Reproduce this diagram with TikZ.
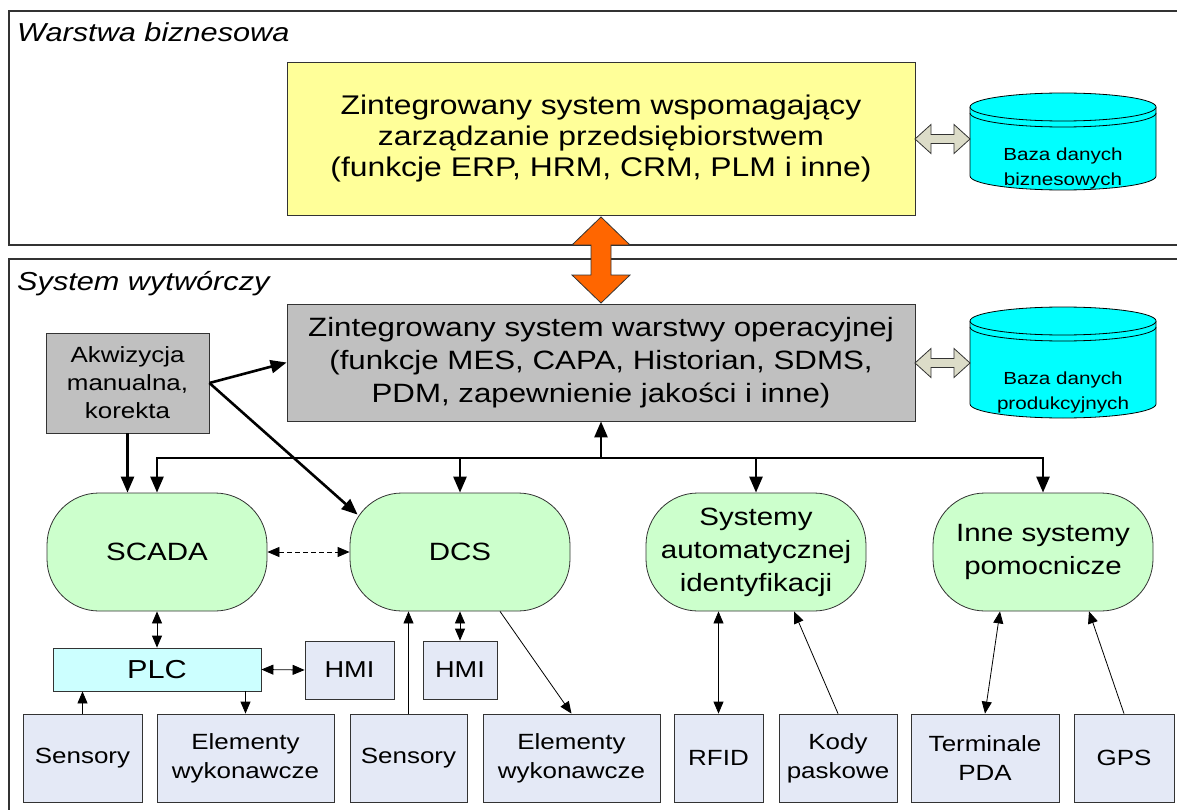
\documentclass[tikz,border=0pt]{standalone}
\usepackage{fontspec}
\setmainfont{Liberation Sans}[FakeStretch=1.18]
\usetikzlibrary{arrows.meta,calc}
\definecolor{yellowc}{HTML}{FFFF99}
\definecolor{grayc}{HTML}{C0C0C0}
\definecolor{cyanc}{HTML}{00FFFF}
\definecolor{greenc}{HTML}{CCFFCC}
\definecolor{plcc}{HTML}{CCFFFF}
\definecolor{lightc}{HTML}{E4E9F6}
\definecolor{orangec}{HTML}{FF6600}
\definecolor{beigec}{HTML}{DCDCC8}
\definecolor{edgec}{HTML}{333333}
\newcommand\fsz[2]{\fontsize{#1pt}{#2pt}\selectfont}
\newcommand\mycyl[3]{%
  \fill[cyanc] (#1-93,#2) -- (#1-93,#3) arc[start angle=180,end angle=360,x radius=93pt,y radius=14pt] -- (#1+93,#2) -- cycle;
  \draw[line width=0.8pt] (#1-93,#2) -- (#1-93,#3) arc[start angle=180,end angle=360,x radius=93pt,y radius=14pt] -- (#1+93,#2);
  \draw[line width=0.8pt,fill=cyanc] (#1,#2) ellipse[x radius=93pt,y radius=14pt];
  \draw[line width=0.8pt] (#1-93,#2+6) arc[start angle=180,end angle=360,x radius=93pt,y radius=14pt];
}
\tikzset{
  layer/.style={draw=edgec,line width=1.1pt},
  box/.style={draw=edgec,line width=0.8pt,align=center,inner sep=0pt},
  mainbox/.style={box,minimum width=628pt},
  greenbox/.style={box,fill=greenc,rounded corners=52pt,minimum width=220pt,minimum height=118pt,font=\fsz{25}{33}},
  lowbox/.style={box,fill=lightc,minimum height=88pt,font=\fsz{22}{29}},
  hmibox/.style={box,fill=lightc,minimum height=58pt,font=\fsz{23}{28}},
  thk/.style={line width=2.6pt,-{Triangle[length=16pt,width=13pt]}},
  thn/.style={line width=0.8pt,-{Triangle[length=12pt,width=10pt]}},
  thnd/.style={line width=0.8pt,{Triangle[length=12pt,width=10pt]}-{Triangle[length=12pt,width=10pt]}},
  dbtext/.style={align=center,font=\fsz{17.5}{25},inner sep=0pt,minimum width=186pt},
  blockarrow/.style={draw=edgec,line width=0.8pt,line join=miter},
  layertitle/.style={anchor=base west,inner sep=0pt,font=\itshape\fsz{26}{30}}
}
\begin{document}
\begin{tikzpicture}[x=1pt,y=-1pt]
\useasboundingbox (0,0) rectangle (1177,810);
\fill[white] (0,0) rectangle (1177,810);
\begin{scope}
  \clip (0,0) rectangle (1177,810);
  \draw[layer] (9,11) rectangle (1200,245);
  \draw[layer] (9,259) rectangle (1200,840);
\end{scope}
\node[layertitle] (t1) at (17,42) {Warstwa biznesowa};
\node[layertitle] (t2) at (17,290) {System wytwórczy};

% business layer
\node[mainbox,fill=yellowc,minimum height=153pt,font=\fsz{27}{31}] (erp) at (601,138.5)
  {Zintegrowany system wspomagający\\zarządzanie przedsiębiorstwem\\(funkcje ERP, HRM, CRM, PLM i inne)};
\mycyl{1063}{107}{176}
\node[dbtext] (db1) at (1063,168) {Baza danych\\biznesowych};

% operational layer
\node[mainbox,fill=grayc,minimum height=117pt,font=\fsz{26.5}{33}] (ops) at (601,362.5)
  {Zintegrowany system warstwy operacyjnej\\(funkcje MES, CAPA, Historian, SDMS,\\PDM, zapewnienie jakości i inne)};
\mycyl{1063}{321}{404}
\node[dbtext] (db2) at (1063,392) {Baza danych\\produkcyjnych};

% block arrows
\draw[blockarrow,fill=beigec] (915,139) -- (931,124.5) -- (931,134.5) -- (954,134.5) -- (954,124.5) -- (970,139)
  -- (954,153.5) -- (954,143.5) -- (931,143.5) -- (931,153.5) -- cycle;
\draw[blockarrow,fill=beigec] (915,363) -- (931,348.5) -- (931,358.5) -- (954,358.5) -- (954,348.5) -- (970,363)
  -- (954,377.5) -- (954,367.5) -- (931,367.5) -- (931,377.5) -- cycle;
\draw[blockarrow,fill=orangec] (601,217) -- (630,245) -- (611,245) -- (611,275) -- (630,275) -- (601,303)
  -- (572,275) -- (591,275) -- (591,245) -- (572,245) -- cycle;

% left acquisition box
\node[box,fill=grayc,minimum width=163pt,minimum height=100pt,font=\fsz{22}{28}] (akw) at (127.5,383)
  {Akwizycja\\manualna,\\korekta};

% green systems
\node[greenbox] (scada) at (157,552) {SCADA};
\node[greenbox] (dcs) at (460,552) {DCS};
\node[greenbox] (sys) at (756,552) {Systemy\\automatycznej\\identyfikacji};
\node[greenbox] (inne) at (1043,552) {Inne systemy\\pomocnicze};

% lower boxes
\node[box,fill=plcc,minimum width=208pt,minimum height=43pt,font=\fsz{26}{30}] (plc) at (157,669.5) {PLC};
\node[hmibox,minimum width=89pt] (hmi1) at (349.5,670) {HMI};
\node[hmibox,minimum width=74pt] (hmi2) at (460,670) {HMI};
\node[lowbox,minimum width=119pt] (sens1) at (82.5,758) {Sensory};
\node[lowbox,minimum width=177pt] (elem1) at (245.5,758) {Elementy\\wykonawcze};
\node[lowbox,minimum width=117pt] (sens2) at (408.5,758) {Sensory};
\node[lowbox,minimum width=177pt] (elem2) at (571.5,758) {Elementy\\wykonawcze};
\node[lowbox,minimum width=89pt] (rfid) at (718.5,758) {RFID};
\node[lowbox,minimum width=118pt] (kody) at (838,758) {Kody\\paskowe};
\node[lowbox,minimum width=148pt] (pda) at (985,758) {Terminale\\PDA};
\node[lowbox,minimum width=100pt] (gps) at (1124,758) {GPS};

% bus
\coordinate (busL) at (157,458);
\coordinate (busR) at (1043,458);
\draw[line width=2.6pt,line cap=rect] (busL) -- (busR);
\draw[thk] (busL) -- (scada.north);
\draw[thk] (dcs.north |- busL) -- (dcs.north);
\draw[thk] (sys.north |- busL) -- (sys.north);
\draw[thk] (busR) -- (inne.north);
\draw[thk] (ops.south |- busL) -- (ops.south);

% acquisition arrows
\draw[thk] (akw.south) -- (akw.south |- scada.north);
\draw[thk] (akw.east) -- (ops.west);
\draw[thk] (akw.east) -- ([shift={(8pt,-22pt)}]dcs.north west);

% thin connectors
\draw[thnd,dashed,dash pattern=on 5pt off 3pt] (scada.east) -- (dcs.west);
\draw[thnd] (scada.south) -- (plc.north);
\draw[thnd] (plc.east) -- (hmi1.west);
\draw[thn] (sens1.north) -- (sens1.north |- plc.south);
\draw[thn] (elem1.north |- plc.south) -- (elem1.north);
\draw[thn] (sens2.north) -- (sens2.north |- dcs.south);
\draw[thnd] (dcs.south) -- (hmi2.north);
\draw[thn] ([xshift=40pt]dcs.south) -- (elem2.north);
\draw[thnd] (rfid.north) -- (rfid.north |- sys.south);
\draw[thn] (kody.north) -- ([xshift=38pt]sys.south);
\draw[thnd] (pda.north) -- ([xshift=-43pt]inne.south);
\draw[thn] (gps.north) -- ([xshift=46pt]inne.south);
\end{tikzpicture}
\end{document}
